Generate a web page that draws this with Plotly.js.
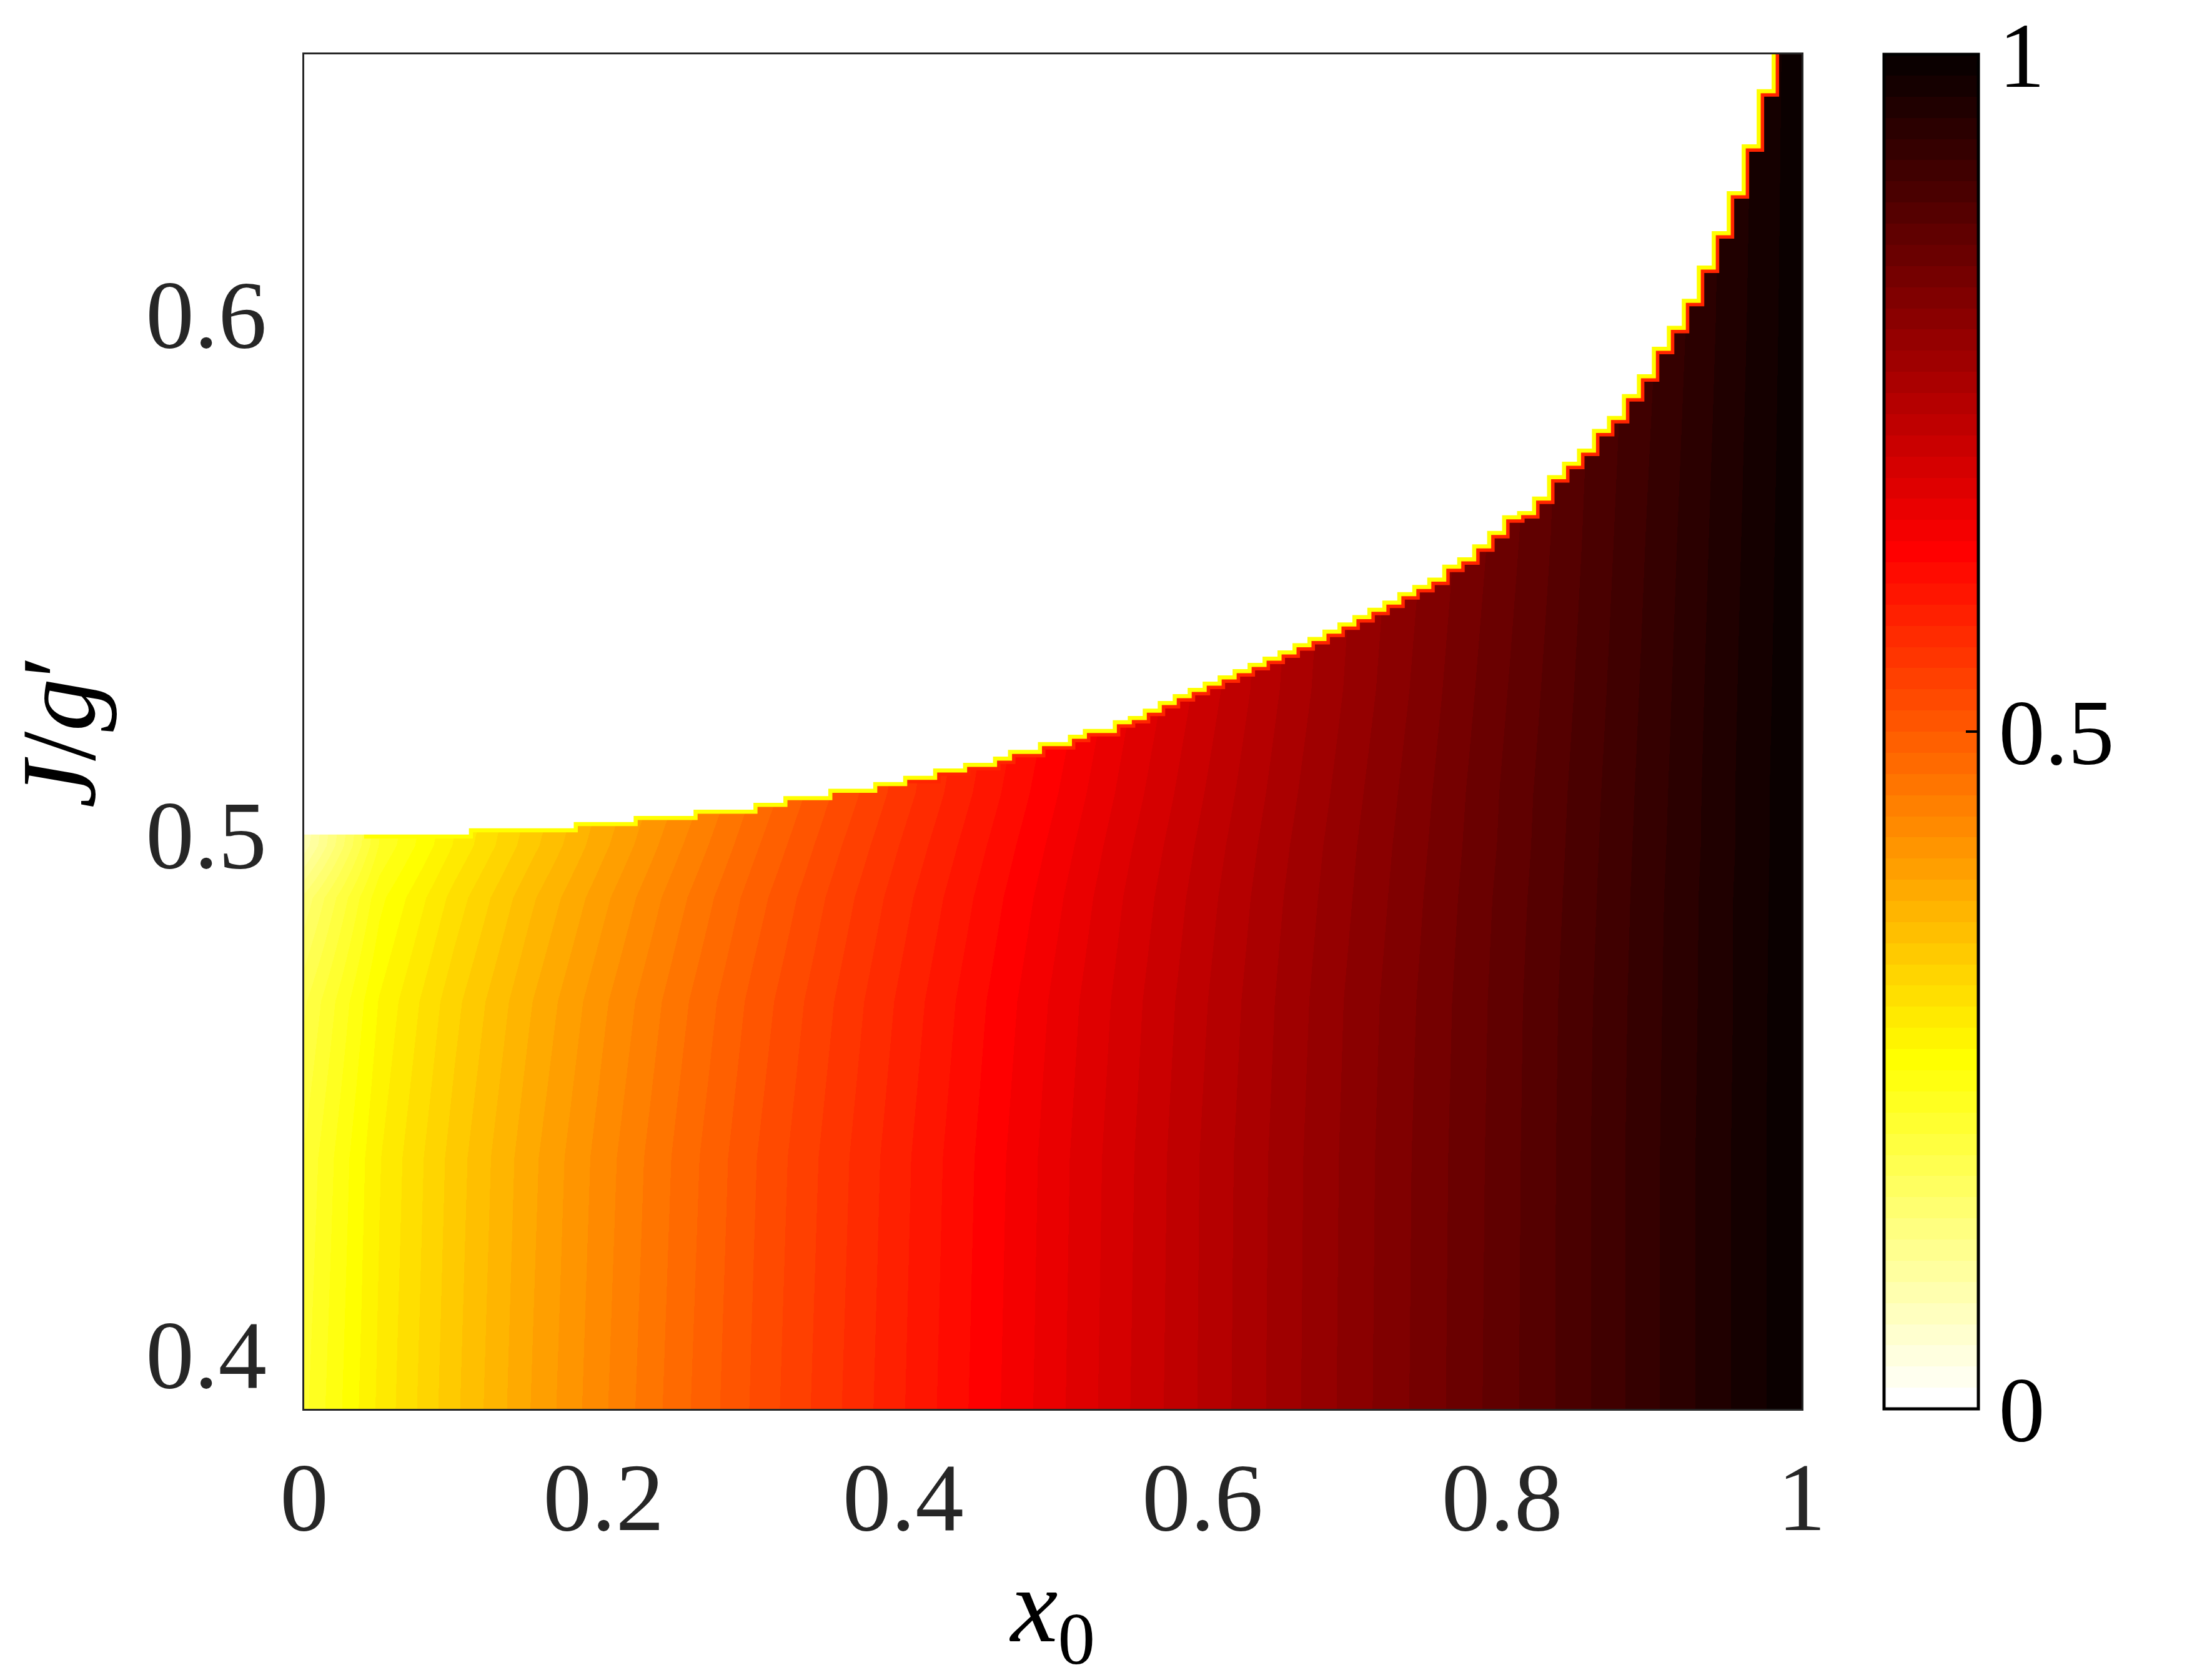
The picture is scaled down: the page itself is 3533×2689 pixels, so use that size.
<!DOCTYPE html>
<html>
<head>
<meta charset="utf-8">
<script src="https://cdn.plot.ly/plotly-3.0.1.min.js"></script>
<style>
html,body{margin:0;padding:0;background:#ffffff;}
#chart{width:3533px;height:2689px;}
</style>
</head>
<body>
<div id="chart"></div>
<script>
// ---------------- data ----------------
// coarse field: columns in x0, rows in J/g'
const x0Field = [0,0.05,0.1,0.15,0.2,0.25,0.3,0.35,0.4,0.45,0.5,0.55,0.6,0.65,0.7,0.75,0.8,0.85,0.9,0.95,1];
const jField  = [0.3916,0.44,0.47,0.49,0.50,0.51,0.53,0.56,0.60,0.652];

const vJ0392 = [0.215,0.285,0.34,0.39,0.435,0.478,0.518,0.556,0.593,0.63,0.666,0.702,0.737,0.771,0.804,0.836,0.868,0.900,0.934,0.967,1.0];
const vJ044  = [0.205,0.28,0.335,0.385,0.43,0.473,0.514,0.552,0.59,0.627,0.664,0.70,0.736,0.770,0.803,0.835,0.867,0.90,0.934,0.967,1.0];
const vJ047  = [0.185,0.267,0.323,0.373,0.419,0.463,0.505,0.544,0.583,0.621,0.659,0.696,0.732,0.767,0.801,0.833,0.866,0.899,0.933,0.966,1.0];
const vJ049  = [0.145,0.245,0.303,0.355,0.402,0.448,0.492,0.533,0.573,0.612,0.651,0.69,0.727,0.763,0.797,0.830,0.864,0.897,0.932,0.966,0.999];
const vJ050  = [0.085,0.22,0.283,0.337,0.387,0.435,0.481,0.524,0.565,0.605,0.645,0.685,0.723,0.760,0.795,0.828,0.862,0.896,0.931,0.965,0.999];
const vJ051  = [0.07,0.21,0.275,0.328,0.377,0.423,0.470,0.514,0.556,0.597,0.638,0.679,0.718,0.756,0.792,0.826,0.861,0.895,0.93,0.965,0.999];
const vJ053  = [0.07,0.21,0.275,0.328,0.377,0.423,0.464,0.506,0.546,0.587,0.627,0.669,0.709,0.749,0.786,0.821,0.857,0.892,0.928,0.964,0.998];
const vJ056  = [0.07,0.21,0.275,0.328,0.377,0.423,0.464,0.506,0.546,0.587,0.627,0.669,0.705,0.744,0.781,0.815,0.851,0.888,0.925,0.962,0.997];
const vJ060  = [0.07,0.21,0.275,0.328,0.377,0.423,0.464,0.506,0.546,0.587,0.627,0.669,0.705,0.744,0.781,0.815,0.848,0.884,0.92,0.959,0.996];
const vJ065  = [0.07,0.21,0.275,0.328,0.377,0.423,0.464,0.506,0.546,0.587,0.627,0.669,0.705,0.744,0.781,0.815,0.848,0.884,0.918,0.956,0.995];

// phase boundary (upper edge of the coloured region), one value per x0 column
const x0Grid = [0,0.01,0.02,0.03,0.04,0.05,0.06,0.07,0.08,0.09,0.1,0.11,0.12,0.13,0.14,0.15,0.16,0.17,0.18,0.19,0.2,
  0.21,0.22,0.23,0.24,0.25,0.26,0.27,0.28,0.29,0.3,0.31,0.32,0.33,0.34,0.35,0.36,0.37,0.38,0.39,0.4,
  0.41,0.42,0.43,0.44,0.45,0.46,0.47,0.48,0.49,0.5,0.51,0.52,0.53,0.54,0.55,0.56,0.57,0.58,0.59,0.6,
  0.61,0.62,0.63,0.64,0.65,0.66,0.67,0.68,0.69,0.7,0.71,0.72,0.73,0.74,0.75,0.76,0.77,0.78,0.79,0.8,
  0.81,0.82,0.83,0.84,0.85,0.86,0.87,0.88,0.89,0.9,0.91,0.92,0.93,0.94,0.95,0.96,0.97,0.98,0.99,1];
const jBoundary = [0.5020,0.5020,0.5020,0.5020,0.5020,0.5020,0.5020,0.5020,0.5020,0.5020,0.5020,0.5020,
  0.5032,0.5032,0.5032,0.5032,0.5032,0.5032,0.5032,
  0.5044,0.5044,0.5044,0.5044,
  0.5056,0.5056,0.5056,0.5056,
  0.5068,0.5068,0.5068,0.5068,
  0.5081,0.5081,
  0.5094,0.5094,0.5094,
  0.5108,0.5108,0.5108,
  0.5121,0.5121,
  0.5133,0.5133,
  0.5147,0.5147,
  0.5158,0.5158,
  0.5170,
  0.5183,0.5183,
  0.5198,0.5198,
  0.5212,
  0.5223,0.5223,
  0.5240,0.5248,0.5262,0.5277,0.5290,0.5302,0.5314,0.5326,0.5338,0.5350,
  0.5362,0.5374,0.5388,0.5400,0.5414,0.5428,0.5442,0.5456,0.5470,0.5486,
  0.5500,0.5514,0.5539,0.5553,0.5578,0.5604,0.5634,0.5642,0.5670,0.5711,
  0.5737,0.5762,0.5800,0.5825,0.5867,0.5905,0.5958,0.5998,0.6050,0.6114,
  0.6180,0.6257,0.6347,0.6453,0.6600,0.6600];

// axes
const xRange = [0, 1];
const yRange = [0.3916, 0.652];
const xTicks = [0, 0.2, 0.4, 0.6, 0.8, 1];
const xTickText = ['0', '0.2', '0.4', '0.6', '0.8', '1'];
const yTicks = [0.4, 0.5, 0.6];
const yTickText = ['0.4', '0.5', '0.6'];
const cbTicks = [0, 0.5, 1];
const cbTickText = ['0', '0.5', '1'];

// ---------------- style ----------------
function hotFlipped(m) {
  const n = Math.floor(3 / 8 * m);
  const cs = [];
  for (let k = 0; k < m; k++) {
    const i = m - k;
    const r = i <= n ? i / n : 1;
    const g = i <= n ? 0 : (i <= 2 * n ? (i - n) / n : 1);
    const b = i <= 2 * n ? 0 : (i - 2 * n) / (m - 2 * n);
    const c = 'rgb(' + Math.round(r * 255) + ',' + Math.round(g * 255) + ',' + Math.round(b * 255) + ')';
    cs.push([k / m, c]);
    cs.push([(k + 1) / m, c]);
  }
  return cs;
}
const colorscale = hotFlipped(64);
const serif = 'Liberation Serif, Times New Roman, Times, serif';
const axisColor = '#262626';

const zField = [vJ0392, vJ044, vJ047, vJ049, vJ050, vJ051, vJ053, vJ056, vJ060, vJ065];

const field = {
  type: 'heatmap',
  x: x0Field, y: jField, z: zField,
  zmin: 0, zmax: 1, zsmooth: 'best',
  colorscale: colorscale,
  hoverinfo: 'skip',
  colorbar: {
    thickness: 151, thicknessmode: 'pixels',
    len: 1, lenmode: 'fraction',
    x: 1.0551, xanchor: 'left', xpad: 0,
    y: 0.5, yanchor: 'middle', ypad: 0,
    outlinewidth: 5, outlinecolor: '#000000',
    tickmode: 'array', tickvals: cbTicks, ticktext: cbTickText,
    ticks: 'inside', ticklen: 22, tickwidth: 4, tickcolor: '#000000',
    tickfont: { family: serif, size: 148, color: '#000000' }
  }
};

function pick(minX) {
  const xs = [], ys = [];
  x0Grid.forEach((v, i) => { if (v >= minX) { xs.push(v); ys.push(jBoundary[i]); } });
  return { xs, ys };
}
const redPart = pick(0.40);
const yelPart = pick(0.04);

const edgeRed = {
  type: 'scatter', mode: 'lines', x: redPart.xs, y: redPart.ys,
  line: { shape: 'vh', color: '#ff2400', width: 24 },
  hoverinfo: 'skip', showlegend: false
};
const edgeYellow = {
  type: 'scatter', mode: 'lines', x: yelPart.xs, y: yelPart.ys,
  line: { shape: 'vh', color: '#ffff00', width: 13 },
  hoverinfo: 'skip', showlegend: false
};
const yAbove = yRange[1] + 0.05;
const mask = {
  type: 'scatter', mode: 'lines',
  x: x0Grid.concat([x0Grid[x0Grid.length - 1], x0Grid[0]]),
  y: jBoundary.concat([yAbove, yAbove]),
  fill: 'toself', fillcolor: '#ffffff',
  line: { shape: 'vh', width: 0, color: '#ffffff' },
  hoverinfo: 'skip', showlegend: false
};

const layout = {
  width: 3533, height: 2689,
  margin: { l: 487, r: 649, t: 87, b: 434, pad: 0 },
  paper_bgcolor: '#ffffff', plot_bgcolor: '#ffffff',
  font: { family: serif, color: axisColor },
  showlegend: false,
  xaxis: {
    range: xRange, tickmode: 'array', tickvals: xTicks, ticktext: xTickText,
    ticks: '', showgrid: false, zeroline: false,
    showline: true, mirror: true, linecolor: axisColor, linewidth: 3,
    tickfont: { family: serif, size: 155, color: axisColor },
    ticklabelstandoff: 5,
    title: { text: '<i>x</i><sub>0</sub>', font: { family: serif, size: 170, color: '#000000' }, standoff: 50 }
  },
  yaxis: {
    range: yRange, tickmode: 'array', tickvals: yTicks, ticktext: yTickText,
    ticks: '', showgrid: false, zeroline: false,
    showline: true, mirror: true, linecolor: axisColor, linewidth: 3,
    tickfont: { family: serif, size: 155, color: axisColor },
    ticklabelstandoff: 26,
    ticklabelshift: -18,
    title: { text: '<i>J</i>/<i>g</i>\u2032', font: { family: serif, size: 170, color: '#000000' }, standoff: 40 }
  }
};

Plotly.newPlot('chart', [field, edgeRed, edgeYellow, mask], layout, { staticPlot: true, displayModeBar: false });
</script>
</body>
</html>
